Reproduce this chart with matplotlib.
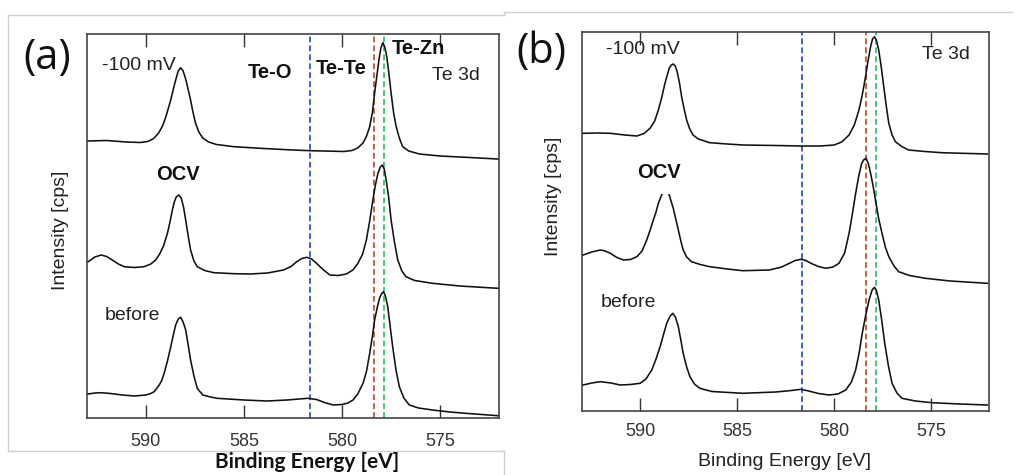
import matplotlib
matplotlib.use("Agg")
import matplotlib.pyplot as plt
from matplotlib.lines import Line2D

# ---------------- data ----------------
xticks = [590, 585, 580, 575]
tick_labels = ["590", "585", "580", "575"]
ref_lines = {"Te-O": 581.65, "Te-Te": 578.35, "Te-Zn": 577.85}
ref_colors = {"Te-O": "#3a62dc", "Te-Te": "#c8643a", "Te-Zn": "#3ccc78"}

# panel (a)  -100 mV
a_m100_E = [592.94, 592.0, 591.0, 590.3, 589.9, 589.6, 589.35, 589.15, 589.0, 588.85,
            588.73, 588.6, 588.48, 588.35, 588.23, 588.10, 587.97, 587.85, 587.72, 587.6,
            587.47, 587.3, 587.1, 586.8, 586.4, 585.5, 584.0, 582.5, 581.6, 580.5,
            579.9, 579.5, 579.2, 578.93, 578.75, 578.59, 578.45, 578.34, 578.22, 578.12,
            578.02, 577.92, 577.82, 577.72, 577.61, 577.50, 577.37, 577.24, 577.08, 576.91,
            576.6, 576.06, 575.0, 573.70, 572.06]
a_m100_I = [277, 277.5, 276, 275.5, 276.5, 279.5, 285, 292, 300, 310,
            318, 329, 338, 347, 350.3, 347, 339, 329, 318, 306,
            295, 286, 280, 276, 273.5, 271.3, 269.5, 268, 267.3, 266.8,
            266.5, 267.5, 270, 275, 282, 291.3, 306, 325, 343, 358,
            370, 375.3, 371, 361.3, 344, 325, 305, 291.3, 280, 271.3,
            267, 264, 262, 260.7, 259]

# panel (a)  OCV
a_ocv_E = [592.94, 592.6, 592.28, 592.0, 591.77, 591.4, 591.10, 590.6, 590.09, 589.75,
           589.5, 589.3, 589.1, 588.90, 588.77, 588.65, 588.55, 588.45, 588.32, 588.20,
           588.08, 587.97, 587.85, 587.72, 587.55, 587.38, 587.0, 586.54, 585.5, 584.68,
           583.8, 582.99, 582.6, 582.31, 582.05, 581.80, 581.55, 581.30, 581.0, 580.62,
           580.2, 579.78, 579.45, 579.19, 578.95, 578.76, 578.6, 578.43, 578.30, 578.17,
           578.05, 577.95, 577.85, 577.75, 577.62, 577.50, 577.33, 577.16, 576.95, 576.74,
           576.3, 575.39, 574.0, 572.06]
a_ocv_I = [156.3, 161, 163, 161.5, 158.7, 154, 151.3, 150.5, 151.3, 154,
           158, 164, 172, 184.7, 196, 208, 216, 221, 223, 220,
           211, 198, 183, 168, 157, 151.3, 147.5, 145.3, 144.3, 144,
           145, 148, 151.5, 156.3, 159.5, 160.7, 159, 154.7, 149, 143,
           142.5, 144, 148, 154.7, 164, 178, 196, 218, 233, 244.7,
           251, 253, 249, 238, 220, 198, 176, 158, 147, 141.3,
           137.5, 134.7, 132, 129.7]

# panel (a)  before
a_bef_E = [592.94, 592.6, 592.28, 591.8, 591.2, 590.59, 590.0, 589.75, 589.58, 589.35,
           589.2, 589.07, 588.9, 588.73, 588.6, 588.48, 588.35, 588.23, 588.10, 587.97,
           587.85, 587.72, 587.55, 587.38, 587.1, 586.7, 586.37, 585.0, 583.83, 582.8,
           582.2, 581.72, 581.3, 580.9, 580.45, 580.0, 579.7, 579.44, 579.2, 578.93,
           578.75, 578.59, 578.45, 578.34, 578.20, 578.09, 577.98, 577.89, 577.79, 577.67,
           577.55, 577.42, 577.25, 577.08, 576.85, 576.57, 576.1, 575.39, 574.5, 573.70,
           572.06]
a_bef_I = [24, 25, 25.3, 24.5, 23, 22, 23, 24.5, 26.3, 32,
           37, 44.7, 57, 71.3, 83, 93, 99, 100.7, 96, 88,
           74, 58, 42, 29.7, 23, 21, 19.7, 18, 17, 18,
           19, 19.7, 18.5, 15.5, 13, 13.5, 15, 18, 24, 34.7,
           47, 64.7, 82, 98, 111, 119.7, 124.5, 126.3, 122, 111.3,
           92, 71.3, 48, 31.3, 20, 13, 10, 8, 6, 4.7,
           2.3]

# panel (b)  -100 mV
b_m100_E = [592.94, 592.2, 591.54, 590.8, 590.17, 589.8, 589.49, 589.25, 589.06, 588.88,
            588.72, 588.60, 588.50, 588.39, 588.29, 588.19, 588.09, 587.97, 587.86, 587.73,
            587.60, 587.45, 587.27, 587.0, 586.41, 585.5, 584.70, 583.0, 581.70, 580.7,
            579.99, 579.6, 579.22, 578.95, 578.71, 578.55, 578.40, 578.25, 578.11, 578.01,
            577.91, 577.80, 577.69, 577.56, 577.43, 577.30, 577.17, 577.0, 576.83, 576.5,
            576.15, 575.3, 574.44, 572.09]
b_m100_I = [277.7, 278, 277.7, 276, 275, 277.5, 282.7, 290, 301, 314,
            327.7, 336, 342.7, 346, 347, 345, 339.3, 328, 314.3, 302,
            291, 282.5, 276, 272, 268.3, 267, 266, 265.5, 265, 265,
            266, 269, 276, 286, 301, 315, 331, 349, 364.3, 372,
            374.3, 370, 361, 344, 324.3, 305, 287.7, 276, 269.3, 264.5,
            261, 259.5, 258.3, 257]

# panel (b)  OCV (top of the 3d3/2 peak is hidden behind the label in the source)
b_ocv_E = [592.94, 592.5, 592.05, 591.8, 591.54, 591.2, 590.86, 590.5, 590.17, 589.9,
           589.66, 589.5, 589.32, 589.18, 589.06, 588.89, 588.69, 588.50, 588.29, 588.15,
           588.03, 587.90, 587.78, 587.6, 587.35, 586.9, 586.41, 585.5, 584.70, 583.33,
           582.7, 582.30, 582.0, 581.70, 581.45, 581.19, 580.8, 580.42, 580.05, 579.74,
           579.45, 579.22, 579.05, 578.88, 578.72, 578.57, 578.45, 578.34, 578.22, 578.11,
           577.98, 577.86, 577.70, 577.52, 577.35, 577.17, 576.9, 576.66, 576.1, 575.29,
           574.0, 572.09]
b_ocv_I = [156, 159, 161, 160, 157.7, 153.5, 151, 151.5, 154.3, 160,
           171, 180, 191, 199, 207.7, 216, 227, 216, 202.7, 191,
           181, 170, 161, 154, 149.3, 146.5, 144.3, 142, 140.3, 141,
           144, 147.7, 150.5, 151.7, 150.5, 147.7, 144.5, 142.7, 144, 147.7,
           158, 177.7, 197, 217.7, 235, 247.7, 251.5, 252.7, 247, 237.7,
           225, 211, 193, 177.7, 164, 154.3, 145, 139.3, 135.5, 132.7,
           130, 127.7]

# panel (b)  before
b_bef_E = [592.94, 592.5, 592.05, 591.5, 591.03, 590.5, 590.00, 589.7, 589.40, 589.18,
           588.97, 588.80, 588.63, 588.45, 588.32, 588.18, 588.03, 587.90, 587.78, 587.60,
           587.43, 587.2, 586.92, 586.3, 584.70, 583.0, 582.2, 581.70, 581.3, 580.8,
           580.25, 579.8, 579.39, 579.1, 578.88, 578.70, 578.54, 578.36, 578.19, 578.03,
           577.91, 577.80, 577.69, 577.53, 577.38, 577.18, 577.00, 576.75, 576.49, 575.8,
           574.95, 573.5, 572.09]
b_bef_I = [26, 28, 29.3, 28, 26, 26.5, 27.7, 32, 41, 52,
           64.3, 76, 87.7, 95, 97.7, 94, 84.3, 71, 57.7, 44,
           34.3, 27, 22.7, 19.5, 17.7, 19, 20.5, 21.7, 20, 17.5,
           16, 17, 21, 29, 41, 58, 77.7, 96, 111, 121,
           123.7, 120, 111, 90, 67.7, 44, 27.7, 18, 12.7, 10,
           8.3, 7, 6]

# ---------------- figure ----------------
W, H = 1020, 475
fig = plt.figure(figsize=(W / 100, H / 100), dpi=100)
fig.patch.set_facecolor("white")


def fx(x):
    return x / W


def fy(y):
    return 1 - y / H


def add_axes(l, t, r, b):
    return fig.add_axes([fx(l), fy(b), fx(r) - fx(l), fy(t) - fy(b)])


axA = add_axes(87, 34, 499, 418)
axB = add_axes(582, 32, 989, 411)

SANS = ["Liberation Sans", "DejaVu Sans"]

panels = [
    (axA, 384, [(a_m100_E, a_m100_I), (a_ocv_E, a_ocv_I), (a_bef_E, a_bef_I)], 10.5),
    (axB, 379, [(b_m100_E, b_m100_I), (b_ocv_E, b_ocv_I), (b_bef_E, b_bef_I)], 8.5),
]
for ax, ytop, curves, pad in panels:
    for E, I in curves:
        ax.plot(E, I, color="#111111", lw=1.15, zorder=3, solid_joinstyle="round")
    for key in ref_lines:
        ax.axvline(ref_lines[key], color=ref_colors[key], lw=1.4,
                   dashes=(3.0, 1.6), zorder=2)
    ax.set_xlim(593, 572)
    ax.set_ylim(0, ytop)
    ax.set_xticks(xticks)
    ax.set_xticklabels(tick_labels, fontfamily=SANS, fontsize=13, color="#333333")
    ax.set_yticks([])
    ax.tick_params(axis="x", direction="in", length=9.5, width=1.0, top=True,
                   color="#333333", pad=pad)
    for s in ax.spines.values():
        s.set_color("#444444")
        s.set_linewidth(1.2)


def T(x, y, s, size=14, weight="normal", color="#222222", family=SANS, **kw):
    return fig.text(fx(x), fy(y), s, ha="center", va="center", fontsize=size,
                    fontweight=weight, color=color, family=family, **kw)


# panel (a) texts
T(47, 58, "(a)", size=30, family=["Open Sans", "DejaVu Sans"], color="#111111")
T(138.5, 65, "-100 mV")
T(270, 72, "Te-O", size=14.5, weight="bold", color="#111111")
T(341, 69, "Te-Te", size=14.5, weight="bold", color="#111111")
T(418, 49, "Te-Zn", size=14.5, weight="bold", color="#111111")
T(456, 76, "Te 3d")
T(178, 175, "OCV", size=14.5, weight="bold", color="#111111")
T(132.5, 315, "before")
T(61, 230, "Intensity [cps]", size=14, rotation=90)
T(307, 462, "Binding Energy [eV]", size=15, weight="bold", color="#111111",
  family=["Lato", "DejaVu Sans"])

# panel (b) texts
T(541, 52, "(b)", size=30, family=["Open Sans", "DejaVu Sans"], color="#111111")
T(642.5, 49.5, "-100 mV")
T(946, 54.5, "Te 3d")
T(658.5, 172.5, "OCV", size=14.5, weight="bold", color="#111111",
  bbox=dict(facecolor="white", edgecolor="none", pad=9))
T(628.5, 302.5, "before")
T(554, 196, "Intensity [cps]", size=14, rotation=90)
T(784, 462, "Binding Energy [eV]", size=14)

# screenshot frame lines (light gray)
g = "#cfcfcf"
for (x0, y0, x1, y1) in [(8, 15, 504, 15), (8, 15, 8, 451), (8, 451, 504, 451),
                         (504, 451, 504, 475), (504, 15, 504, 12), (504, 12, 1012, 12)]:
    fig.add_artist(Line2D([fx(x0), fx(x1)], [fy(y0), fy(y1)], color=g, lw=1.0,
                          transform=fig.transFigure))

fig.savefig("out.png", dpi=100)
